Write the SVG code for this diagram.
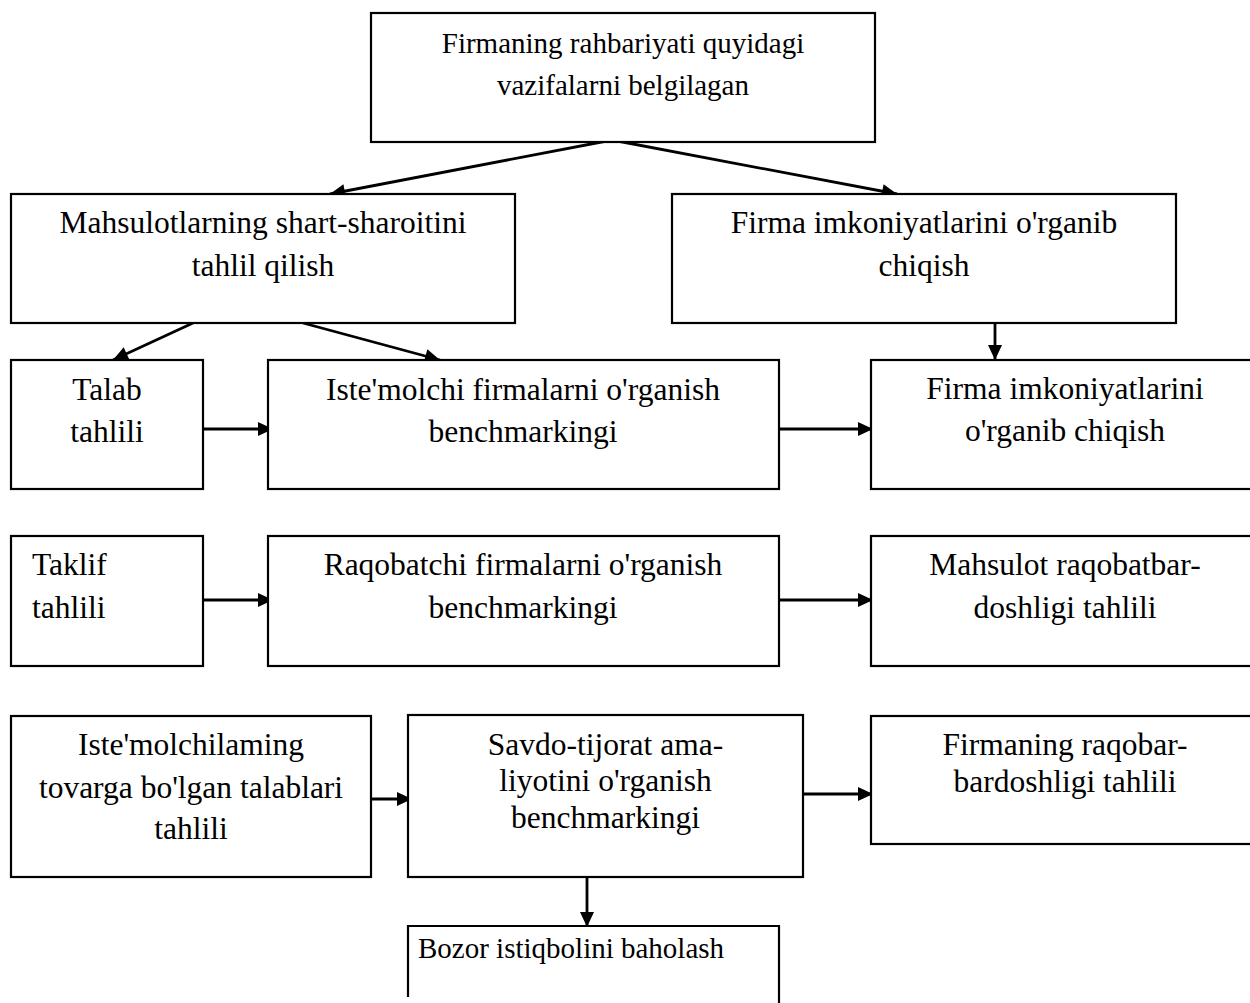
<svg xmlns="http://www.w3.org/2000/svg" width="1250" height="1003" viewBox="0 0 1250 1003">
  <style>
    .box { fill: #ffffff; stroke: #000000; stroke-width: 2.2; }
    .lbl { font-family: "Liberation Serif", "Times New Roman", serif; font-size: 31.5px; fill: #000000; text-anchor: middle; }
    .lbl.small { font-size: 29px; }
    .lbl.left { text-anchor: start; }
    .edge { fill: none; stroke: #000000; stroke-width: 2.8; marker-end: url(#arrow); }
  </style>
  <defs>
    <marker id="arrow" markerUnits="userSpaceOnUse" markerWidth="16" markerHeight="16" refX="15" refY="8" orient="auto" overflow="visible">
      <path d="M0,1 L15,8 L0,15 Z" fill="#000000"/>
    </marker>
  </defs>
  <rect x="0" y="0" width="1250" height="1003" fill="#ffffff"/>

  <!-- connectors -->
  <g id="connectors">
    <line class="edge" x1="612" y1="140" x2="330" y2="194"/>
    <line class="edge" x1="612" y1="140" x2="897" y2="194"/>
    <line class="edge" x1="193" y1="323" x2="113" y2="360"/>
    <line class="edge" x1="303" y1="323" x2="440" y2="360"/>
    <line class="edge" x1="995" y1="323" x2="995" y2="360"/>
    <line class="edge" x1="203" y1="429" x2="273" y2="429"/>
    <line class="edge" x1="779" y1="429" x2="873" y2="429"/>
    <line class="edge" x1="203" y1="600" x2="273" y2="600"/>
    <line class="edge" x1="779" y1="600" x2="873" y2="600"/>
    <line class="edge" x1="364" y1="799" x2="412" y2="799"/>
    <line class="edge" x1="803" y1="794" x2="873" y2="794"/>
    <line class="edge" x1="587" y1="877" x2="587" y2="927"/>
  </g>

  <g id="node-rahbariyat">
    <rect class="box" x="371" y="13" width="504" height="129"/>
    <text class="lbl small" x="623" y="53">Firmaning rahbariyati quyidagi</text>
    <text class="lbl small" x="623" y="95">vazifalarni belgilagan</text>
  </g>

  <g id="node-shart-sharoit">
    <rect class="box" x="11" y="194" width="504" height="129"/>
    <text class="lbl" x="263" y="233">Mahsulotlarning shart-sharoitini</text>
    <text class="lbl" x="263" y="276">tahlil qilish</text>
  </g>

  <g id="node-imkoniyat-1">
    <rect class="box" x="672" y="194" width="504" height="129"/>
    <text class="lbl" x="924" y="233">Firma imkoniyatlarini o'rganib</text>
    <text class="lbl" x="924" y="276">chiqish</text>
  </g>

  <g id="node-talab">
    <rect class="box" x="11" y="360" width="192" height="129"/>
    <text class="lbl" x="107" y="400">Talab</text>
    <text class="lbl" x="107" y="442">tahlili</text>
  </g>

  <g id="node-istemolchi-firmalar">
    <rect class="box" x="268" y="360" width="511" height="129"/>
    <text class="lbl" x="523" y="400">Iste'molchi firmalarni o'rganish</text>
    <text class="lbl" x="523" y="442">benchmarkingi</text>
  </g>

  <g id="node-imkoniyat-2">
    <rect class="box" x="871" y="360" width="390" height="129"/>
    <text class="lbl" x="1065" y="399">Firma imkoniyatlarini</text>
    <text class="lbl" x="1065" y="441">o'rganib chiqish</text>
  </g>

  <g id="node-taklif">
    <rect class="box" x="11" y="536" width="192" height="130"/>
    <text class="lbl left" x="32" y="575">Taklif</text>
    <text class="lbl left" x="32" y="618">tahlili</text>
  </g>

  <g id="node-raqobatchi-firmalar">
    <rect class="box" x="268" y="536" width="511" height="130"/>
    <text class="lbl" x="523" y="575">Raqobatchi firmalarni o'rganish</text>
    <text class="lbl" x="523" y="618">benchmarkingi</text>
  </g>

  <g id="node-mahsulot-raqobat">
    <rect class="box" x="871" y="536" width="390" height="130"/>
    <text class="lbl" x="1065" y="575">Mahsulot raqobatbar-</text>
    <text class="lbl" x="1065" y="618">doshligi tahlili</text>
  </g>

  <g id="node-talablar">
    <rect class="box" x="11" y="716" width="360" height="161"/>
    <text class="lbl" x="191" y="755">Iste'molchilaming</text>
    <text class="lbl" x="191" y="798">tovarga bo'lgan talablari</text>
    <text class="lbl" x="191" y="839">tahlili</text>
  </g>

  <g id="node-savdo-tijorat">
    <rect class="box" x="408" y="715" width="395" height="162"/>
    <text class="lbl" x="605.5" y="755">Savdo-tijorat ama-</text>
    <text class="lbl" x="605.5" y="791">liyotini o'rganish</text>
    <text class="lbl" x="605.5" y="828">benchmarkingi</text>
  </g>

  <g id="node-firma-raqobat">
    <rect class="box" x="871" y="716" width="390" height="128"/>
    <text class="lbl" x="1065" y="755">Firmaning raqobar-</text>
    <text class="lbl" x="1065" y="792">bardoshligi tahlili</text>
  </g>

  <g id="node-bozor">
    <path class="box" d="M408,997 L408,926 L779,926 L779,1010"/>
    <text class="lbl small left" x="418" y="958">Bozor istiqbolini baholash</text>
  </g>
</svg>
